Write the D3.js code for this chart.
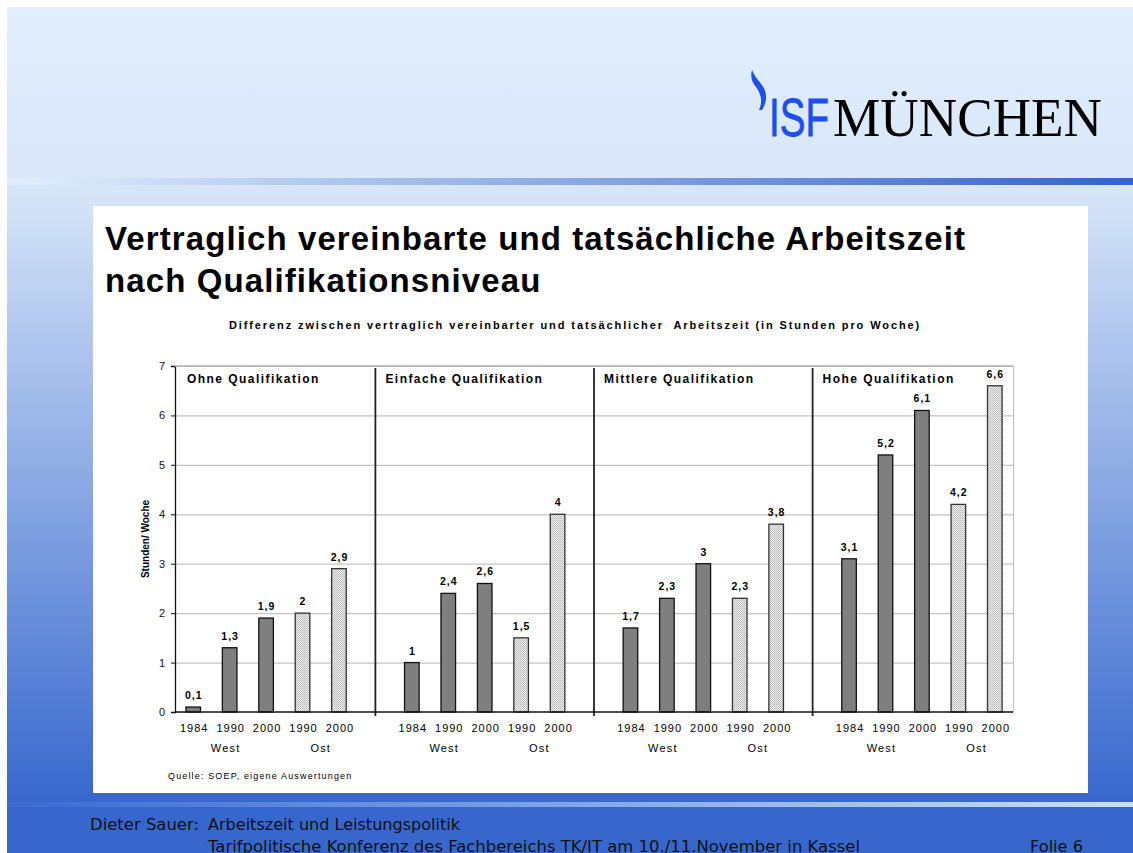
<!DOCTYPE html>
<html>
<head>
<meta charset="utf-8">
<script src="https://cdn.jsdelivr.net/npm/d3@7"></script>
<style>
  body { margin: 0; background: #fff; }
  svg { display: block; font-family: "Liberation Sans", Arial, sans-serif; }
</style>
</head>
<body>
<script>
// chart data
const groups = ['Ohne Qualifikation', 'Einfache Qualifikation', 'Mittlere Qualifikation', 'Hohe Qualifikation'];
const years = ['1984', '1990', '2000', '1990', '2000'];
const regions = ['West', 'West', 'West', 'Ost', 'Ost'];
const ohne = [0.1, 1.3, 1.9, 2, 2.9];
const einfache = [1, 2.4, 2.6, 1.5, 4];
const mittlere = [1.7, 2.3, 3, 2.3, 3.8];
const hohe = [3.1, 5.2, 6.1, 4.2, 6.6];
const yTicks = [0, 1, 2, 3, 4, 5, 6, 7];

const seriesByGroup = [ohne, einfache, mittlere, hohe];

let width = 1133;
let height = 853;
let svg = d3.select('body').append('svg')
   .attr('width', width)
   .attr('height', height);

let defs = svg.append('defs');

// slide background gradients
let vGrad = defs.append('linearGradient').attr('id', 'bgv').attr('x1', 0).attr('y1', 0).attr('x2', 0).attr('y2', 1);
vGrad.append('stop').attr('offset', '0%').attr('stop-color', '#d8e6f8');
vGrad.append('stop').attr('offset', '100%').attr('stop-color', '#3767cd');

let topGrad = defs.append('linearGradient').attr('id', 'bgt').attr('x1', 0).attr('y1', 0).attr('x2', 0).attr('y2', 1);
topGrad.append('stop').attr('offset', '0%').attr('stop-color', '#e1eefd');
topGrad.append('stop').attr('offset', '100%').attr('stop-color', '#d9e7f9');

let lineTop = defs.append('linearGradient').attr('id', 'lt');
lineTop.append('stop').attr('offset', '0%').attr('stop-color', '#e2effd');
lineTop.append('stop').attr('offset', '100%').attr('stop-color', '#3264cc');

let lineBot = defs.append('linearGradient').attr('id', 'lb');
lineBot.append('stop').attr('offset', '0%').attr('stop-color', '#3a6bd0');
lineBot.append('stop').attr('offset', '100%').attr('stop-color', '#cadef9');

// dotted fill for the "Ost" bars
let dots = defs.append('pattern').attr('id', 'dots')
   .attr('width', 2).attr('height', 2).attr('patternUnits', 'userSpaceOnUse');
dots.append('rect').attr('width', 2).attr('height', 2).attr('fill', '#ececec');
dots.append('rect').attr('width', 1).attr('height', 1).attr('fill', '#b8b8b8');
dots.append('rect').attr('x', 1).attr('y', 1).attr('width', 1).attr('height', 1).attr('fill', '#c8c8c8');

svg.append('rect').attr('x', 7).attr('y', 7).attr('width', width - 7).attr('height', 172).attr('fill', 'url(#bgt)');
svg.append('rect').attr('x', 7).attr('y', 185).attr('width', width - 7).attr('height', 620).attr('fill', 'url(#bgv)');
svg.append('rect').attr('x', 7).attr('y', 178).attr('width', width - 7).attr('height', 7).attr('fill', 'url(#lt)');
svg.append('rect').attr('x', 7).attr('y', 807).attr('width', width - 7).attr('height', 46).attr('fill', '#3767cd');
svg.append('rect').attr('x', 7).attr('y', 802).attr('width', width - 7).attr('height', 5).attr('fill', 'url(#lb)');

// white panel
svg.append('rect').attr('x', 93).attr('y', 206).attr('width', 995).attr('height', 587).attr('fill', '#fff');

// logo: swoosh + one text with two parts
svg.append('path')
   .attr('d', 'M752,70 C750,77 752,82 756,87 C761,94 763,101 759,110 L762,110 C768,101 767,92 762,85 C757,79 754,75 752,70 Z')
   .attr('fill', '#1f4ff0');
let logo = svg.append('text')
   .attr('x', 769).attr('y', 136)
   .attr('font-size', 54);
logo.append('tspan')
   .attr('font-family', '"Liberation Sans", sans-serif')
   .attr('fill', '#1d4ef5')
   .attr('stroke', '#1d4ef5').attr('stroke-width', 0.8)
   .attr('textLength', 60).attr('lengthAdjust', 'spacingAndGlyphs')
   .text('ISF');
logo.append('tspan')
   .attr('x', 833)
   .attr('font-family', '"Liberation Serif", serif')
   .attr('fill', '#000')
   .attr('textLength', 269).attr('lengthAdjust', 'spacingAndGlyphs')
   .text('MÜNCHEN');

// title
svg.append('text').attr('x', 105).attr('y', 250)
   .attr('font-size', 33).attr('font-weight', 'bold')
   .attr('letter-spacing', 1.1)
   .text('Vertraglich vereinbarte und tatsächliche Arbeitszeit');
svg.append('text').attr('x', 105).attr('y', 292)
   .attr('font-size', 33).attr('font-weight', 'bold')
   .attr('letter-spacing', 1.1)
   .text('nach Qualifikationsniveau');

svg.append('text').attr('x', 575).attr('y', 329)
   .attr('text-anchor', 'middle')
   .attr('font-size', 11).attr('font-weight', 'bold')
   .attr('letter-spacing', 1.9)
   .style('white-space', 'pre')
   .text('Differenz zwischen vertraglich vereinbarter und tatsächlicher  Arbeitszeit (in Stunden pro Woche)');

// scales
let plotLeft = 175, plotRight = 1013, plotTop = 366, plotBottom = 712;
let slots = d3.range(23);
let xScale = d3.scaleBand().domain(slots).range([plotLeft, plotRight]).paddingInner(0.6).paddingOuter(0.3);
let yScale = d3.scaleLinear().domain([0, 7]).range([plotBottom, plotTop]);

// flatten bars: 5 bars per group, one empty slot between groups
let bars = [];
seriesByGroup.forEach((vals, g) => {
   vals.forEach((v, i) => {
      bars.push({ group: g, idx: i, slot: g * 6 + i, value: v, ost: regions[i] === 'Ost' });
   });
});

// gridlines
svg.append('g').selectAll('line')
   .data(yTicks.filter(t => t > 0))
   .enter().append('line')
   .attr('x1', plotLeft).attr('x2', plotRight)
   .attr('y1', d => yScale(d) + 0.5).attr('y2', d => yScale(d) + 0.5)
   .attr('stroke', '#c4c4c4').attr('stroke-width', 1.2);
svg.append('line')
   .attr('x1', plotRight + 0.5).attr('x2', plotRight + 0.5).attr('y1', plotTop).attr('y2', plotBottom)
   .attr('stroke', '#c4c4c4').attr('stroke-width', 1.2);

// separators between qualification groups
let sepSlots = [5, 11, 17];
let sepX = d => xScale(d) + xScale.bandwidth() / 2;
svg.append('g').selectAll('line')
   .data(sepSlots)
   .enter().append('line')
   .attr('x1', sepX)
   .attr('x2', sepX)
   .attr('y1', plotTop + 2).attr('y2', plotBottom + 4)
   .attr('stroke', '#222').attr('stroke-width', 1.8);

// bars
svg.append('g').selectAll('rect')
   .data(bars)
   .enter().append('rect')
   .attr('x', d => xScale(d.slot))
   .attr('y', d => yScale(d.value))
   .attr('width', xScale.bandwidth())
   .attr('height', d => yScale(0) - yScale(d.value))
   .attr('fill', d => d.ost ? 'url(#dots)' : '#7f7f7f')
   .attr('stroke', d => d.ost ? '#333' : '#111')
   .attr('stroke-width', 1.3);

// value labels
svg.append('g').selectAll('text')
   .data(bars)
   .enter().append('text')
   .attr('x', d => xScale(d.slot) + xScale.bandwidth() / 2 + 0.5)
   .attr('y', d => yScale(d.value) - 8)
   .attr('text-anchor', 'middle')
   .attr('font-size', 10.5).attr('font-weight', 'bold')
   .attr('letter-spacing', 1)
   .text(d => String(d.value).replace('.', ','));

// group titles, placed right of the group's left boundary
let boundaries = [plotLeft + 2].concat(sepSlots.map(sepX));
svg.append('g').selectAll('text')
   .data(groups)
   .enter().append('text')
   .attr('x', (d, i) => boundaries[i] + 10)
   .attr('y', 383)
   .attr('font-size', 12).attr('font-weight', 'bold')
   .attr('letter-spacing', 1.45)
   .text(d => d);

// axes
let yAxis = d3.axisLeft(yScale).tickValues(yTicks).tickSize(4).tickPadding(6).tickFormat(d3.format('d'));
let yG = svg.append('g').attr('transform', 'translate(' + plotLeft + ',0)').call(yAxis);
yG.select('.domain').attr('stroke', '#111').attr('stroke-width', 1.3);
yG.selectAll('.tick line').attr('stroke', '#111');
yG.selectAll('.tick text').attr('font-size', 11).attr('font-family', '"Liberation Sans", Arial, sans-serif').attr('fill', '#111');

svg.append('line')
   .attr('x1', plotLeft).attr('x2', plotRight).attr('y1', plotBottom).attr('y2', plotBottom)
   .attr('stroke', '#111').attr('stroke-width', 1.5);
svg.append('line')
   .attr('x1', plotLeft).attr('x2', plotRight).attr('y1', plotTop).attr('y2', plotTop)
   .attr('stroke', '#b0b0b0').attr('stroke-width', 1.5);

// year labels
svg.append('g').selectAll('text')
   .data(bars)
   .enter().append('text')
   .attr('x', d => xScale(d.slot) + xScale.bandwidth() / 2 + 1)
   .attr('y', 732)
   .attr('text-anchor', 'middle')
   .attr('font-size', 11)
   .attr('letter-spacing', 1)
   .text(d => years[d.idx]);

// West / Ost labels
let regionLabels = [];
groups.forEach((g, gi) => {
   regionLabels.push({ text: 'West', slot: gi * 6 + 1 });
   regionLabels.push({ text: 'Ost', slot: gi * 6 + 3.5 });
});
svg.append('g').selectAll('text')
   .data(regionLabels)
   .enter().append('text')
   .attr('x', d => plotLeft + xScale.step() * (0.3 + d.slot) + xScale.bandwidth() / 2 - (d.text === 'West' ? 4 : 0))
   .attr('y', 752)
   .attr('text-anchor', 'middle')
   .attr('font-size', 11)
   .attr('letter-spacing', 1.2)
   .text(d => d.text);

// y axis title
svg.append('text')
   .attr('transform', 'translate(149,' + ((plotTop + plotBottom) / 2) + ') rotate(-90)')
   .attr('text-anchor', 'middle')
   .attr('font-size', 10).attr('font-weight', 'bold')
   .text('Stunden/ Woche');

// source
svg.append('text').attr('x', 168).attr('y', 779)
   .attr('font-size', 9).attr('letter-spacing', 1.15)
   .text('Quelle: SOEP, eigene Auswertungen');

// footer (the slide cuts the second line at the bottom edge)
let footer = [
   { text: 'Dieter Sauer:', x: 90, y: 830, w: 109 },
   { text: 'Arbeitszeit und Leistungspolitik', x: 208, y: 830, w: 252 },
   { text: 'Tarifpolitische Konferenz des Fachbereichs TK/IT am 10./11.November in Kassel', x: 208, y: 852, w: 652 },
   { text: 'Folie 6', x: 1030, y: 852, w: 53 }
];
svg.append('g').selectAll('text')
   .data(footer)
   .enter().append('text')
   .attr('x', d => d.x).attr('y', d => d.y)
   .attr('font-family', '"DejaVu Sans", sans-serif')
   .attr('font-size', 16)
   .attr('fill', '#111')
   .attr('textLength', d => d.w).attr('lengthAdjust', 'spacingAndGlyphs')
   .text(d => d.text);
</script>
</body>
</html>
